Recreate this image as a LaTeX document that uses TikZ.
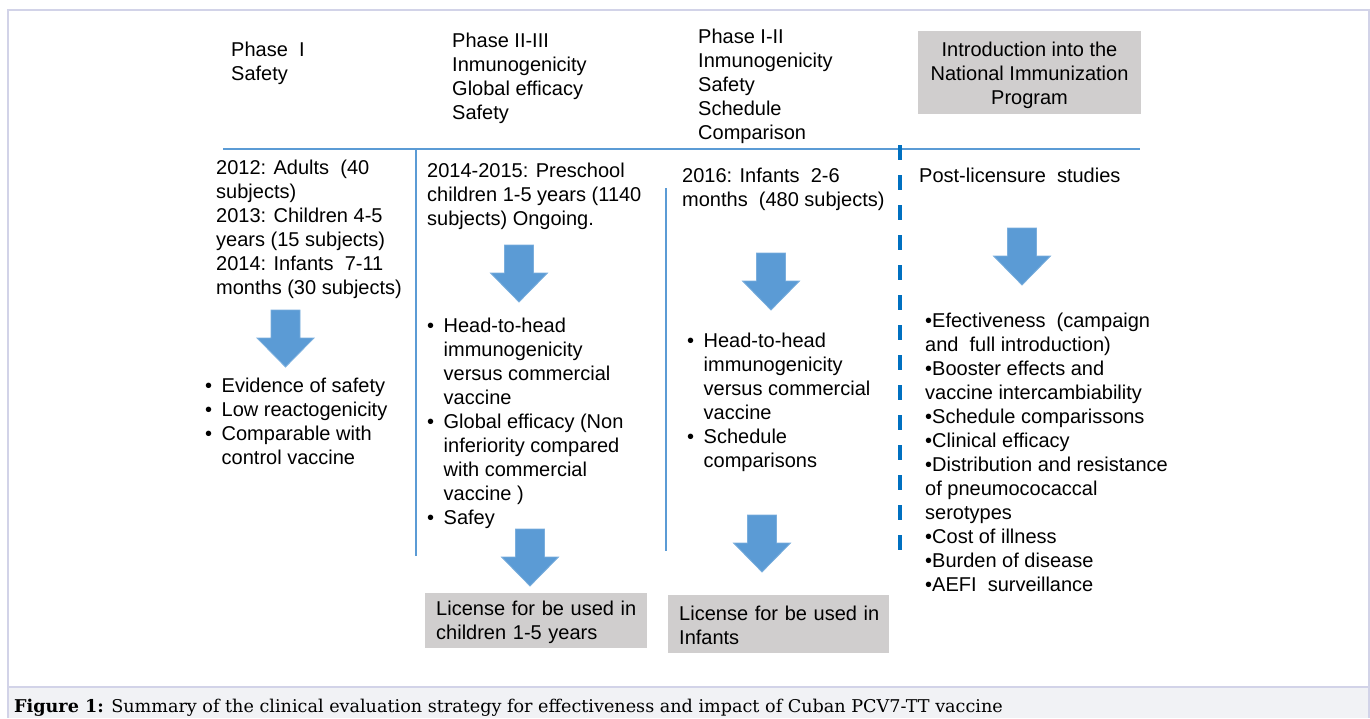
\documentclass[tikz,border=0pt]{standalone}
\usepackage{fontspec}
\setmainfont{Liberation Sans}
\newfontfamily\capfont{DejaVu Serif}
\definecolor{arrowblue}{HTML}{5B9BD5}
\definecolor{arrowedge}{HTML}{7AAEDD}
\definecolor{ruleblue}{HTML}{5B9BD5}
\definecolor{dashblue}{HTML}{0070C0}
\definecolor{boxgray}{HTML}{D0CECE}
\definecolor{framecol}{HTML}{D2D3E8}
\definecolor{capbg}{HTML}{F1F2F5}
\newcommand{\bul}{\makebox[16.5pt][l]{\textbullet}}
\newcommand{\ind}{\hspace*{16.5pt}}
\newcommand{\pad}{\hspace*{11pt}}
\begin{document}
\begin{tikzpicture}[x=1pt,y=-1pt,
  txt/.style={anchor=north west, inner sep=0pt, align=left,
    font=\fontsize{20}{24}\selectfont, execute at begin node=\strut},
  graybox/.style={fill=boxgray, inner sep=0pt, font=\fontsize{20}{24}\selectfont},
  licbox/.style={graybox, anchor=north west, text width=222pt, align=left},
  thinrule/.style={draw=ruleblue, line width=1.1pt},
  dashrule/.style={draw=dashblue, line width=4pt, dash pattern=on 15pt off 15pt},
  downarrow/.pic={\path[fill=arrowblue, draw=arrowedge, line width=0.8pt]
    (-14.5,0) -- (14.5,0) -- (14.5,28) -- (28.5,28) -- (0,57) -- (-28.5,28) -- (-14.5,28) -- cycle;}
]
\useasboundingbox (0,0) rectangle (1370,718);
% frame and caption band
\fill[capbg] (8,687) rectangle (1369,718);
\draw[framecol, line width=1.5pt] (8,718) -- (8,10) -- (1369,10) -- (1369,718);
\draw[framecol, line width=1.5pt] (8,687) -- (1369,687);
\node[anchor=base west, inner sep=0pt, font=\capfont\fontsize{17.6}{20}\selectfont] (cap) at (14,712)
  {\textbf{Figure 1:} Summary of the clinical evaluation strategy for effectiveness and impact of Cuban PCV7-TT vaccine};

% rules
\draw[thinrule] (223,149) -- (1140,149);
\draw[thinrule] (416,149) -- (416,556);
\draw[thinrule] (666,188) -- (666,551);
\draw[dashrule] (900,145) -- (900,552);

% headers
\node[txt] (ph1) at (231,42) {Phase\ \ I\\Safety};
\node[txt] (ph23) at (452,33) {Phase II-III\\Inmunogenicity\\Global efficacy\\Safety};
\node[txt] (ph12) at (698,29) {Phase I-II\\Inmunogenicity\\Safety\\Schedule\\Comparison};
\node[graybox, minimum width=223pt, minimum height=83pt, align=center] (intro) at (1029.5,72.5) {};
\node[txt, anchor=north, align=center] (introtxt) at (1029.5,42)
  {Introduction into the\\National Immunization\\Program};

% study descriptions
\node[txt] (c1) at (216,160) {2012: Adults\ \ (40\\subjects)\\2013: Children 4-5\\years (15 subjects)\\2014: Infants\ \ 7-11\\months (30 subjects)};
\node[txt] (c2) at (427,163) {2014-2015: Preschool\\children 1-5 years (1140\\subjects) Ongoing.};
\node[txt] (c3) at (682,168) {2016: Infants\ \ 2-6\\months\ \ (480 subjects)};
\node[txt] (c4) at (919,165) {Post-licensure\ \ studies};

% arrows
\pic (a1) at (285.5,310) {downarrow};
\pic (a2) at (519,245) {downarrow};
\pic (a3) at (771,253) {downarrow};
\pic (a4) at (1022,228) {downarrow};
\pic (a5) at (530,529) {downarrow};
\pic (a6) at (762,515) {downarrow};

% outcome lists
\node[txt] (l1) at (205,378) {\bul Evidence of safety\\\bul Low reactogenicity\\\bul Comparable with\\\ind control vaccine};
\node[txt] (l2) at (427,318) {\bul Head-to-head\\\ind immunogenicity\\\ind versus commercial\\\ind vaccine\\\bul Global efficacy (Non\\\ind inferiority compared\\\ind with commercial\\\ind vaccine )\\\bul Safey};
\node[txt] (l3) at (687,333) {\bul Head-to-head\\\ind immunogenicity\\\ind versus commercial\\\ind vaccine\\\bul Schedule\\\ind comparisons};
\node[txt] (l4) at (925,313) {\textbullet Efectiveness\ \ (campaign\\and\ \ full introduction)\\\textbullet Booster effects and\\vaccine intercambiability\\\textbullet Schedule comparissons\\\textbullet Clinical efficacy\\\textbullet Distribution and resistance\\of pneumococaccal\\serotypes\\\textbullet Cost of illness\\\textbullet Burden of disease\\\textbullet AEFI\ \ surveillance};

% license boxes
\node[licbox, minimum height=55pt] (lic1) at (425,593)
  {\pad\strut License for be used in\\\pad children 1-5 years};
\node[licbox, text width=221pt, minimum height=58pt] (lic2) at (668,595)
  {\pad\strut License for be used in\\\pad Infants};
\end{tikzpicture}
\end{document}
